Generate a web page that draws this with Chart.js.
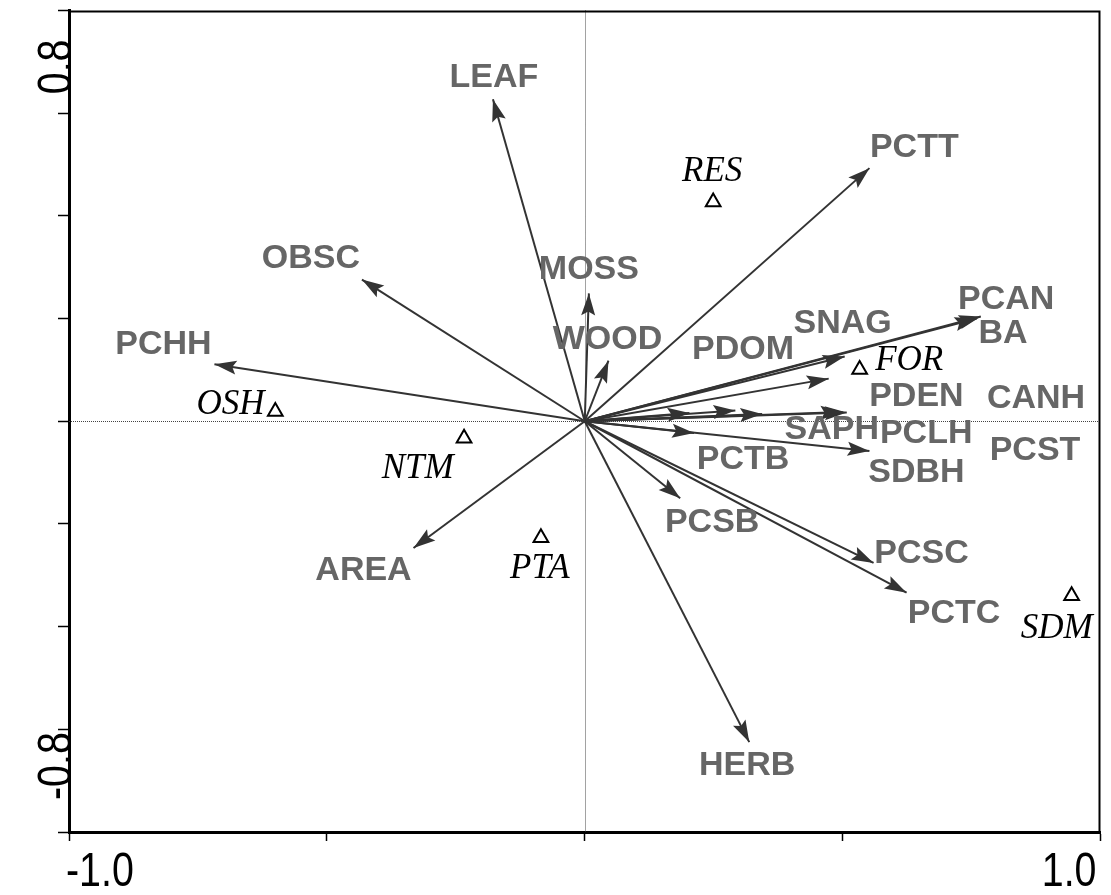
<!DOCTYPE html>
<html>
<head>
<meta charset="utf-8">
<script src="https://cdn.jsdelivr.net/npm/chart.js@4.4.1/dist/chart.umd.min.js"></script>
<style>
  html, body { margin: 0; padding: 0; background: #fff; }
</style>
</head>
<body>
<canvas id="biplot" width="1111" height="895"></canvas>
<script>
// environmental variables (arrow tips, axis 1 / axis 2 scores)
const varNames = ["LEAF", "PCTT", "OBSC", "MOSS", "WOOD", "PCHH", "PCAN", "BA", "SNAG", "PDOM", "PDEN",
  "CANH", "SAPH", "PCLH", "PCST", "SDBH", "PCTB", "PCSB", "PCSC", "PCTC", "AREA", "HERB"];
const varX = [-0.178, 0.552, -0.432, 0.008, 0.046, -0.718, 0.768, 0.760, 0.504, 0.473, 0.508,
  0.500, 0.344, 0.292, 0.203, 0.552, 0.212, 0.185, 0.560, 0.624, -0.332, 0.319];
const varY = [0.627, 0.493, 0.276, 0.249, 0.118, 0.111, 0.204, 0.200, 0.126, 0.083, 0.017,
  0.018, 0.014, 0.021, 0.016, -0.058, -0.023, -0.150, -0.276, -0.334, -0.247, -0.625];
// where each variable name sits (data units)
const varLabelX = [-0.176, 0.639, -0.531, 0.008, 0.044, -0.817, 0.817, 0.811, 0.500, 0.307, 0.643,
  0.875, 0.479, 0.662, 0.873, 0.643, 0.307, 0.247, 0.653, 0.716, -0.429, 0.315];
const varLabelY = [0.670, 0.532, 0.317, 0.295, 0.159, 0.150, 0.237, 0.171, 0.190, 0.140, 0.047,
  0.044, -0.016, -0.025, -0.058, -0.101, -0.074, -0.198, -0.258, -0.375, -0.291, -0.670];

// sites (triangles)
const siteNames = ["RES", "FOR", "OSH", "NTM", "PTA", "SDM"];
const siteX = [0.249, 0.533, -0.600, -0.234, -0.085, 0.944];
const siteY = [0.427, 0.101, 0.019, -0.033, -0.227, -0.340];
const siteLabelX = [0.247, 0.629, -0.687, -0.324, -0.087, 0.915];
const siteLabelY = [0.485, 0.117, 0.033, -0.093, -0.287, -0.404];

// axis ranges and the end labels
const xRange = [-1.0, 1.0];
const yRange = [-0.8, 0.8];
const xTickLabels = ["-1.0", "1.0"];
const yTickLabels = ["-0.8", "0.8"];

const datasets = varNames.map((name, i) => ({
  label: name,
  data: [{ x: 0, y: 0 }, { x: varX[i], y: varY[i] }],
  showLine: true,
  borderColor: "#333",
  borderWidth: 2,
  pointRadius: 0,
  pointHoverRadius: 0,
}));
datasets.push({
  label: "sites",
  data: siteX.map((x, i) => ({ x: x, y: siteY[i] })),
  pointStyle: "triangle",
  pointRadius: 8.5,
  backgroundColor: "#fff",
  borderColor: "#000",
  borderWidth: 2,
});

const biplotDecor = {
  id: "biplotDecor",
  beforeDatasetsDraw(chart) {
    const { ctx, chartArea: a, scales: { x, y } } = chart;
    // zero lines, dotted, snapped to whole pixels
    const x0 = Math.round(x.getPixelForValue(0)) + 0.5;
    const y0 = Math.round(y.getPixelForValue(0)) + 0.5;
    ctx.save();
    ctx.strokeStyle = "#444";
    ctx.lineWidth = 1;
    ctx.setLineDash([1, 1]);
    ctx.beginPath();
    ctx.moveTo(a.left, y0); ctx.lineTo(a.right, y0);
    ctx.moveTo(x0, a.top); ctx.lineTo(x0, a.bottom);
    ctx.stroke();
    ctx.restore();
  },
  afterDatasetsDraw(chart) {
    const { ctx, scales: { x, y } } = chart;
    ctx.save();
    // arrow heads
    ctx.fillStyle = "#333";
    varNames.forEach((n, i) => {
      const pts = chart.getDatasetMeta(i).data;
      const p0 = pts[0], p1 = pts[1];
      const ang = Math.atan2(p1.y - p0.y, p1.x - p0.x);
      const len = 22, hw = 7;
      ctx.save();
      ctx.translate(p1.x, p1.y);
      ctx.rotate(ang);
      ctx.beginPath();
      ctx.moveTo(0, 0);
      ctx.lineTo(-len, -hw);
      ctx.lineTo(-len * 0.82, 0);
      ctx.lineTo(-len, hw);
      ctx.closePath();
      ctx.fill();
      ctx.restore();
    });
    // variable names
    ctx.fillStyle = "#666";
    ctx.font = "bold 34px 'Liberation Sans', Arial, sans-serif";
    ctx.textAlign = "center";
    ctx.textBaseline = "middle";
    varNames.forEach((n, i) => {
      ctx.fillText(n, x.getPixelForValue(varLabelX[i]), y.getPixelForValue(varLabelY[i]));
    });
    // site names
    ctx.fillStyle = "#000";
    ctx.font = "italic 35px 'Liberation Serif', 'Times New Roman', serif";
    siteNames.forEach((n, i) => {
      ctx.fillText(n, x.getPixelForValue(siteLabelX[i]), y.getPixelForValue(siteLabelY[i]));
    });
    ctx.restore();
  },
  afterDraw(chart) {
    const { ctx, chartArea: a, scales: { x, y } } = chart;
    ctx.save();
    // top and right frame
    ctx.strokeStyle = "#000";
    ctx.lineWidth = 2;
    ctx.beginPath();
    ctx.moveTo(a.left, a.top + 1); ctx.lineTo(a.right - 1, a.top + 1); ctx.lineTo(a.right - 1, a.bottom);
    ctx.stroke();
    // end tick labels, condensed
    ctx.fillStyle = "#000";
    ctx.font = "48px 'Liberation Sans', Arial, sans-serif";
    ctx.textBaseline = "alphabetic";
    const sx = 0.82;
    ctx.save();
    ctx.translate(x.getPixelForValue(xRange[0]) - 3, 886);
    ctx.scale(sx, 1);
    ctx.textAlign = "left";
    ctx.fillText(xTickLabels[0], 0, 0);
    ctx.restore();
    ctx.save();
    ctx.translate(x.getPixelForValue(xRange[1]) - 4, 886);
    ctx.scale(sx, 1);
    ctx.textAlign = "right";
    ctx.fillText(xTickLabels[1], 0, 0);
    ctx.restore();
    // rotated y labels
    ctx.save();
    ctx.translate(71, y.getPixelForValue(yRange[1]) + 29);
    ctx.rotate(-Math.PI / 2);
    ctx.scale(sx, 1);
    ctx.textAlign = "right";
    ctx.fillText(yTickLabels[1], 0, 0);
    ctx.restore();
    ctx.save();
    ctx.translate(71, y.getPixelForValue(yRange[0]) - 32);
    ctx.rotate(-Math.PI / 2);
    ctx.scale(sx, 1);
    ctx.textAlign = "left";
    ctx.fillText(yTickLabels[0], 0, 0);
    ctx.restore();
    ctx.restore();
  },
};

new Chart(document.getElementById("biplot").getContext("2d"), {
  type: "scatter",
  data: { datasets: datasets },
  options: {
    responsive: false,
    animation: false,
    layout: { padding: { top: 8, right: 5, left: 0, bottom: 0 } },
    plugins: { legend: { display: false }, tooltip: { enabled: false } },
    scales: {
      x: {
        type: "linear",
        min: xRange[0],
        max: xRange[1],
        ticks: { stepSize: 0.5, display: false },
        grid: { drawOnChartArea: false, drawTicks: true, tickLength: 9, tickColor: "#000", tickWidth: 1.5 },
        border: { color: "#000", width: 3 },
        afterFit(s) { s.height = 63; },
      },
      y: {
        type: "linear",
        min: yRange[0],
        max: yRange[1],
        ticks: { stepSize: 0.2, display: false },
        grid: { drawOnChartArea: false, drawTicks: true, tickLength: 11, tickColor: "#000", tickWidth: 1.5 },
        border: { color: "#000", width: 3 },
        afterFit(s) { s.width = 69; },
      },
    },
  },
  plugins: [biplotDecor],
});
</script>
</body>
</html>
